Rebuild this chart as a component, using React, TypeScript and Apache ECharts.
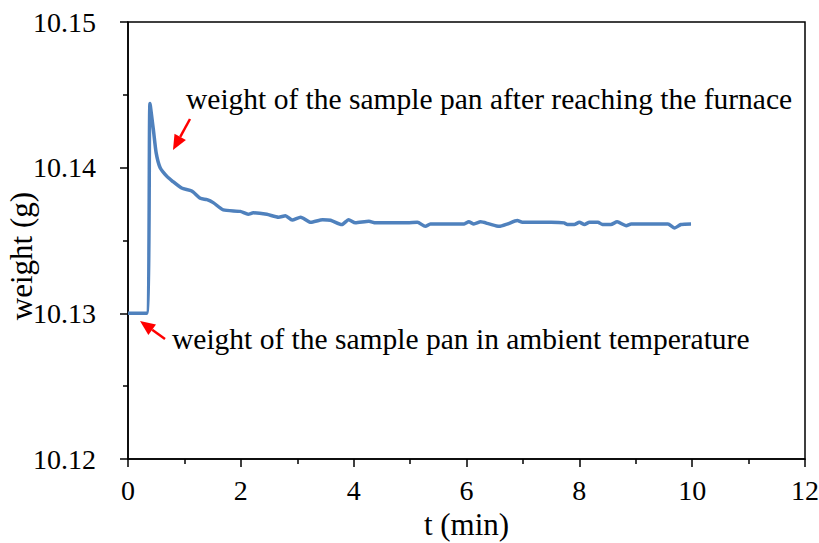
import React, { useEffect, useRef } from "react";
import * as echarts from "echarts";

// Time since start of the run (min)
const timeMin = [
  0, 0.33, 0.39, 0.45, 0.5, 0.57, 0.69, 0.78, 0.95, 1.13, 1.28, 1.4, 1.51, 1.69,
  1.99, 2.13, 2.22, 2.46, 2.67, 2.79, 2.91, 3.06, 3.24, 3.45, 3.59, 3.79, 3.91,
  4.03, 4.27, 4.39, 4.95, 5.13, 5.27, 5.36, 5.96, 6.04, 6.13, 6.25, 6.4, 6.58,
  6.73, 6.9, 6.99, 7.5, 7.73, 7.79, 7.91, 8.0, 8.09, 8.18, 8.33, 8.41, 8.56,
  8.67, 8.83, 8.92, 9.57, 9.69, 9.8, 9.98,
];

// Balance reading of the sample pan (g)
const weightG = [
  10.13, 10.13, 10.1444, 10.1426, 10.141, 10.14, 10.1394, 10.1391, 10.1386,
  10.1384, 10.1379, 10.1378, 10.1376, 10.1371, 10.137, 10.1368, 10.1369,
  10.1368, 10.1366, 10.1367, 10.1364, 10.1366, 10.13625, 10.13643, 10.13639,
  10.13609, 10.13643, 10.13621, 10.13632, 10.13621, 10.13621, 10.13625,
  10.13597, 10.13614, 10.13614, 10.13628, 10.13614, 10.13628, 10.13614,
  10.13597, 10.13614, 10.13637, 10.13625, 10.13625, 10.13621, 10.1361,
  10.1361, 10.13625, 10.1361, 10.13625, 10.13625, 10.1361, 10.1361, 10.13628,
  10.13602, 10.13614, 10.13614, 10.13586, 10.1361, 10.13614,
];

const xAxisName = "t (min)";
const yAxisName = "weight (g)";
const noteFurnace = "weight of the sample pan after reaching the furnace";
const noteAmbient = "weight of the sample pan in ambient temperature";

const FONT = "'Liberation Serif', 'Times New Roman', serif";
const TICK_SIZE = 28;
const NAME_SIZE = 31;
const NOTE_SIZE = 29.5;

// Red arrow: a shaft plus a filled triangular head ending at the tip.
function arrow(tail: [number, number], tip: [number, number]) {
  const dx = tip[0] - tail[0];
  const dy = tip[1] - tail[1];
  const len = Math.hypot(dx, dy);
  const ux = dx / len;
  const uy = dy / len;
  const headLen = 15;
  const headHalf = 6.5;
  const bx = tip[0] - ux * headLen;
  const by = tip[1] - uy * headLen;
  const px = -uy * headHalf;
  const py = ux * headHalf;
  return [
    {
      type: "line",
      shape: { x1: tail[0], y1: tail[1], x2: bx, y2: by },
      style: { stroke: "#ff0000", lineWidth: 2.5 },
      silent: true,
    },
    {
      type: "polygon",
      shape: {
        points: [
          [tip[0], tip[1]],
          [bx + px, by + py],
          [bx - px, by - py],
        ],
      },
      style: { fill: "#ff0000" },
      silent: true,
    },
  ];
}

export default function App() {
  const ref = useRef<HTMLDivElement>(null);

  useEffect(() => {
    if (!ref.current) return;
    const chart = echarts.init(ref.current, undefined, { renderer: "svg" });
    const seriesData = timeMin.map((t, i) => [t, weightG[i]]);

    const axisCommon = {
      type: "value",
      nameLocation: "middle",
      nameTextStyle: { fontFamily: FONT, fontSize: NAME_SIZE, color: "#000" },
      axisLine: { show: true, lineStyle: { color: "#000", width: 1.5 } },
      axisTick: { show: true, inside: false, length: 8, lineStyle: { color: "#000", width: 1.5 } },
      minorTick: { show: true, splitNumber: 2, length: 5, lineStyle: { color: "#000", width: 1.5 } },
      splitLine: { show: false },
    };

    chart.setOption({
      animation: false,
      backgroundColor: "#ffffff",
      grid: {
        left: 128,
        right: 14,
        top: 22,
        bottom: 84,
        show: true,
        borderColor: "#000",
        borderWidth: 1.5,
        containLabel: false,
        outerBoundsMode: "none",
      },
      xAxis: {
        ...axisCommon,
        min: 0,
        max: 12,
        interval: 2,
        name: xAxisName,
        nameGap: 50,
        axisLabel: {
          margin: 17,
          fontFamily: FONT,
          fontSize: TICK_SIZE,
          color: "#000",
        },
      },
      yAxis: {
        ...axisCommon,
        min: 10.12,
        max: 10.15,
        interval: 0.01,
        axisLabel: {
          margin: 32,
          fontFamily: FONT,
          fontSize: TICK_SIZE,
          color: "#000",
          formatter: (v: number) => v.toFixed(2),
        },
      },
      series: [
        {
          type: "line",
          data: seriesData,
          showSymbol: false,
          smooth: 0.2,
          lineStyle: { color: "#4F81BD", width: 3.5 },
          itemStyle: { color: "#4F81BD" },
        },
      ],
      graphic: [
        // vertical axis title, set a little below the axis midpoint
        {
          type: "text",
          x: 21,
          y: 256,
          rotation: Math.PI / 2,
          style: {
            text: yAxisName,
            fontFamily: FONT,
            fontSize: NAME_SIZE,
            fill: "#000",
            align: "center",
            verticalAlign: "middle",
          },
        },
        {
          type: "text",
          left: 186,
          top: 84,
          style: {
            text: noteFurnace,
            fontFamily: FONT,
            fontSize: NOTE_SIZE,
            fill: "#000",
          },
        },
        {
          type: "text",
          left: 172,
          top: 324,
          style: {
            text: noteAmbient,
            fontFamily: FONT,
            fontSize: NOTE_SIZE,
            fill: "#000",
          },
        },
        ...arrow([190, 119], [173, 150]),
        ...arrow([165, 339], [140, 321]),
      ],
    });

    return () => chart.dispose();
  }, []);

  return (
    <div
      ref={ref}
      style={{ position: "fixed", left: 0, top: 0, width: 819, height: 543 }}
    />
  );
}
